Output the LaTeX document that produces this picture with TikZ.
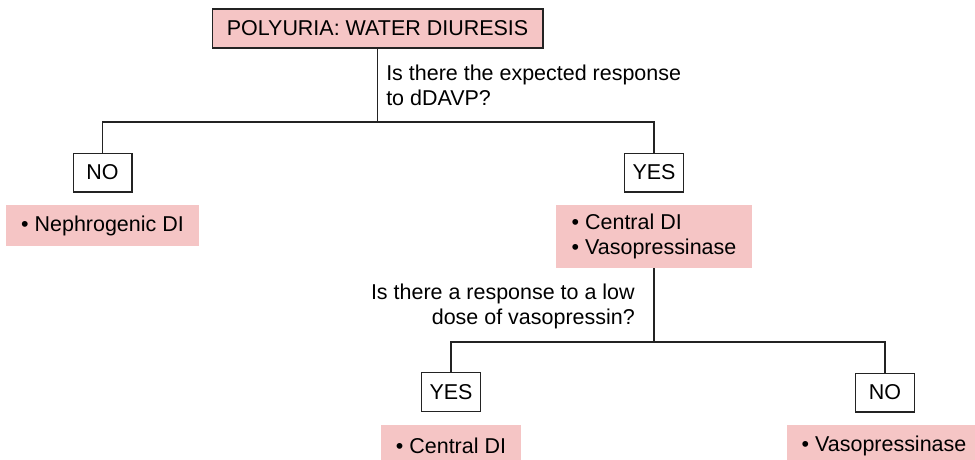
\documentclass[tikz,border=0pt]{standalone}
\usepackage{fontspec}
\setmainfont{Liberation Sans}
\usepackage{xcolor}
\usepackage{tikz}

\definecolor{rosefill}{RGB}{245,197,197}
\definecolor{inkgray}{RGB}{35,35,35}

\begin{document}
\begin{tikzpicture}[x=0.75pt,y=-0.75pt,
    every node/.style={font=\fontsize{16.1}{18.6}\selectfont,text=black},
    wire/.style={draw=inkgray,line width=1pt},
    titlebox/.style={draw=inkgray,line width=1pt,fill=rosefill,inner sep=0pt},
    answer/.style={draw=inkgray,line width=1pt,fill=white,inner sep=0pt,minimum width=44pt,minimum height=29pt},
    result/.style={fill=rosefill,inner sep=0pt,align=left,minimum height=30.75pt},
    question/.style={inner sep=0pt}]
  \useasboundingbox (0,0) rectangle (975,460);
  \clip (0,0) rectangle (975,460);

  \node[titlebox,minimum width=248pt,minimum height=29.25pt] (top) at (377.5,28.5) {POLYURIA: WATER DIURESIS};
  \node[question,anchor=north west,align=left] (ddavp) at (386,65) {Is there the expected response\\to dDAVP?};
  \coordinate (split1) at (377.5,122);
  \node[answer] (no1) at (102.5,172.5) {NO};
  \node[answer] (yes1) at (654,172.5) {YES};
  \draw[wire] (top) -- (split1);
  \draw[wire] (no1.north) |- (split1) -| (yes1.north);

  \node[result,minimum width=144.75pt] (nephro) at (102.5,225.5) {• Nephrogenic DI};
  \node[result,minimum width=147pt,minimum height=47.25pt] (cendi) at (654,236.5) {• Central DI\\• Vasopressinase};

  \node[question,anchor=north east,align=right] (lowdose) at (635,284) {Is there a response to a low\\dose of vasopressin?};
  \coordinate (split2) at (654,342);
  \node[answer] (yes2) at (451,392) {YES};
  \node[answer] (no2) at (885,392.5) {NO};
  \draw[wire] (cendi) -- (split2);
  \draw[wire] (yes2.north) |- (split2) -| (no2.north);

  \node[result,minimum width=105pt] (central) at (451,445.5) {• Central DI};
  \node[result,minimum width=145.5pt] (vaso) at (884,445.5) {• Vasopressinase};
\end{tikzpicture}
\end{document}
